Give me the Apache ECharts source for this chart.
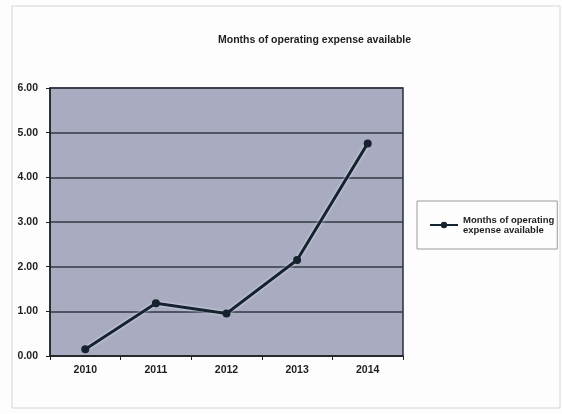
<!DOCTYPE html>
<html><head><meta charset="utf-8">
<script src="https://cdn.jsdelivr.net/npm/echarts@6/dist/echarts.min.js"></script>
<style>html,body{margin:0;padding:0;background:#fff}#c{width:562px;height:414px}</style>
</head><body><div id="c"></div>
<script>
const categories = ['2010','2011','2012','2013','2014'];
const seriesName = 'Months of operating\nexpense available';
const values = [0.15, 1.18, 0.95, 2.15, 4.76];
const yTicks = [0, 1, 2, 3, 4, 5, 6];

const chart = echarts.init(document.getElementById('c'));
const font = 'Liberation Sans';
chart.setOption({
  backgroundColor: '#fdfdfd',
  animation: false,
  graphic: [{
    type: 'rect', silent: true,
    shape: {x: 12, y: 6, width: 548, height: 402},
    style: {fill: 'none', stroke: '#d6d6d6', lineWidth: 1}
  }],
  title: {
    text: 'Months of operating expense available',
    left: 213, top: 30,
    textStyle: {fontFamily: font, fontSize: 10.5, fontWeight: 'bold', color: '#1e1e22'}
  },
  legend: {
    data: [seriesName],
    left: 417, top: 201,
    orient: 'vertical',
    padding: [14, 3, 14, 12],
    borderColor: '#9a9a9a', borderWidth: 1,
    itemWidth: 28, itemHeight: 8, itemGap: 2,
    textStyle: {fontFamily: font, fontSize: 9.5, fontWeight: 'bold', color: '#1e1e22', lineHeight: 10}
  },
  grid: {left: 50, right: 159, top: 88, bottom: 58, show: true, backgroundColor: '#a9abc0', borderColor: '#2a2e38', borderWidth: 1.5},
  xAxis: {
    type: 'category', data: categories, boundaryGap: true,
    axisLine: {lineStyle: {color: '#222', width: 1.5}},
    axisTick: {show: true, length: 4, lineStyle: {color: '#222'}},
    axisLabel: {fontFamily: font, fontSize: 10.5, fontWeight: 'bold', color: '#1e1e22', margin: 9}
  },
  yAxis: {
    type: 'value', min: 0, max: 6, interval: 1,
    axisLine: {show: true, lineStyle: {color: '#222', width: 1.5}},
    axisTick: {show: true, length: 4, lineStyle: {color: '#222'}},
    splitLine: {lineStyle: {color: '#333846', width: 1.5}},
    axisLabel: {fontFamily: font, fontSize: 10.5, fontWeight: 'bold', color: '#1e1e22', margin: 12,
      formatter: v => v.toFixed(2)}
  },
  series: [{
    name: seriesName, type: 'line', data: values,
    symbol: 'circle', symbolSize: 8,
    lineStyle: {color: '#16232e', width: 3, shadowColor: 'rgba(230,240,255,0.9)', shadowBlur: 3},
    itemStyle: {color: '#16232e'}
  }]
});
</script></body></html>
